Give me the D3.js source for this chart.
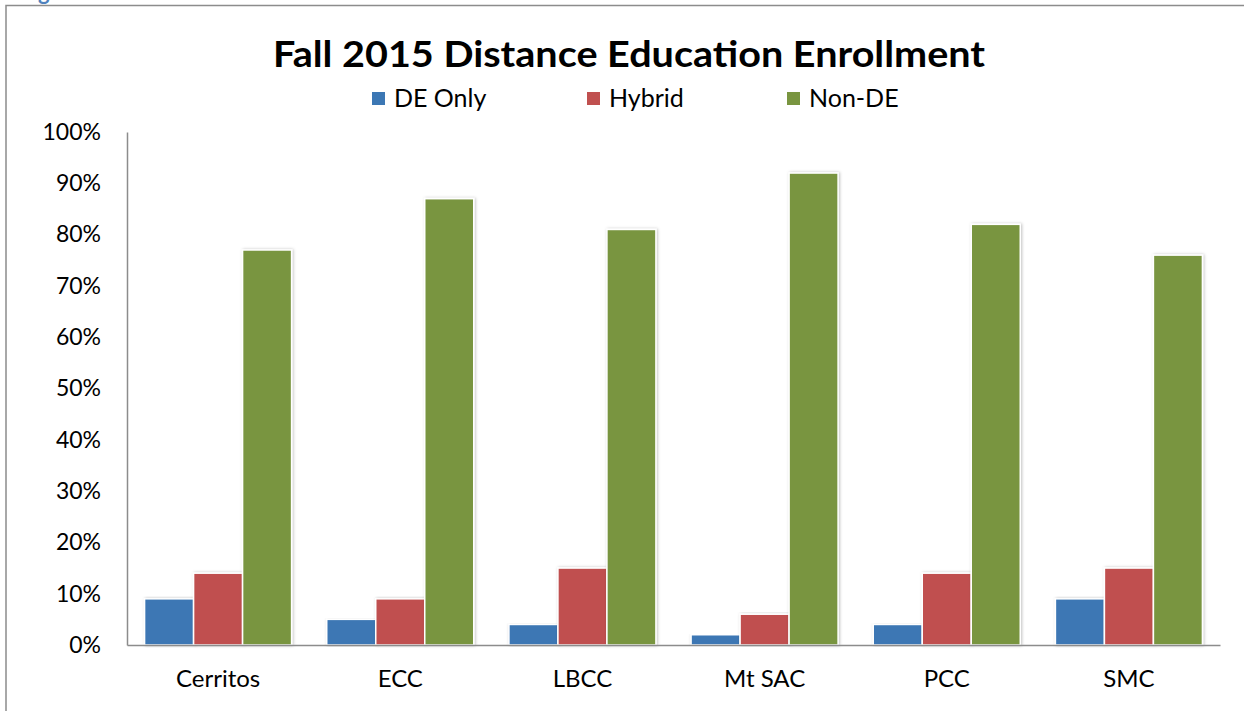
<html>
<script src="https://d3js.org/d3.v7.min.js"></script>
<style>
body { margin: 0; background: #fff; }
text { font-family: Lato, "Open Sans", sans-serif; fill: #000; }
</style>
<body>
<svg width="1244" height="711"></svg>
<script>
const categories = ["Cerritos", "ECC", "LBCC", "Mt SAC", "PCC", "SMC"];
const seriesNames = ["DE Only", "Hybrid", "Non-DE"];
const deOnly = [9, 5, 4, 2, 4, 9];
const hybrid = [14, 9, 15, 6, 14, 15];
const nonDE = [77, 87, 81, 92, 82, 76];
const tickValues = [0, 10, 20, 30, 40, 50, 60, 70, 80, 90, 100];
const colors = ["#3c77b4", "#c0504f", "#799540"];

const series = [deOnly, hybrid, nonDE];

const svg = d3.select("svg");

// cut-off caption above the frame
svg.append("text")
  .text("Figure 4: Fall 2015 Distance Education Enrollment at Peer Institutions")
  .attr("x", 20)
  .attr("y", 0)
  .style("font-size", "22px")
  .style("font-weight", "bold")
  .style("fill", "#4f81bd");

// frame
svg.append("path")
  .attr("d", "M6,711 V5.5 H1244")
  .attr("fill", "none")
  .attr("stroke", "#8c8c8c")
  .attr("stroke-width", 1.5);

var plotLeft = 127, plotRight = 1220, plotTop = 132, plotBottom = 645;

var x0 = d3.scaleBand().domain(categories).range([plotLeft, plotRight]);
var x1 = d3.scaleBand().domain([0, 1, 2]).range([x0.bandwidth() / 2 - 73.5, x0.bandwidth() / 2 + 73.5]);
var y = d3.scaleLinear().domain([0, 100]).range([plotBottom, plotTop]);

var defs = svg.append("defs");
var f = defs.append("filter").attr("id", "shadow").attr("x", "-20%").attr("y", "-5%").attr("width", "140%").attr("height", "110%");
f.append("feDropShadow").attr("dx", 1).attr("dy", 0).attr("stdDeviation", 1.5).attr("flood-color", "#000").attr("flood-opacity", 0.25);

// bars
var groups = svg.append("g")
  .selectAll("g")
  .data(categories)
  .enter()
  .append("g")
  .attr("transform", d => "translate(" + x0(d) + ",0)");

groups.selectAll("rect")
  .data((d, i) => series.map((s, k) => ({k: k, v: s[i]})))
  .enter()
  .append("rect")
  .attr("x", d => x1(d.k))
  .attr("y", d => y(d.v))
  .attr("width", x1.bandwidth())
  .attr("height", d => plotBottom - y(d.v))
  .attr("fill", d => colors[d.k])
  .attr("stroke", "#fff")
  .attr("stroke-width", 1.5)
  .attr("filter", "url(#shadow)");

// y axis
var yAxis = svg.append("g")
  .attr("transform", "translate(" + plotLeft + ",0)")
  .call(d3.axisLeft(y).tickValues(tickValues).tickFormat(d => d + "%").tickSize(0).tickPadding(26));
yAxis.select(".domain").attr("stroke", "#8c8c8c").attr("stroke-width", 1.5);
yAxis.selectAll("text").style("font-size", "23px").style("font-family", "Lato, sans-serif");

// x axis
var xAxis = svg.append("g")
  .attr("transform", "translate(0," + plotBottom + ")")
  .call(d3.axisBottom(x0).tickSize(0).tickPadding(25));
xAxis.select(".domain").attr("stroke", "#8c8c8c").attr("stroke-width", 1.5);
xAxis.selectAll("text").style("font-size", "24px").style("font-family", "Lato, sans-serif");

// title
svg.append("text")
  .text("Fall 2015 Distance Education Enrollment")
  .attr("x", 629)
  .attr("y", 67)
  .attr("text-anchor", "middle")
  .style("font-family", "Lato, sans-serif")
  .style("font-weight", "bold")
  .style("font-size", "36px")
  .attr("textLength", 712)
  .attr("lengthAdjust", "spacingAndGlyphs");

// legend
var legX = [372, 587, 787];
var leg = svg.append("g")
  .selectAll("g")
  .data(seriesNames)
  .enter()
  .append("g")
  .attr("transform", (d, i) => "translate(" + legX[i] + ",92)");
leg.append("rect")
  .attr("width", 13)
  .attr("height", 13)
  .attr("fill", (d, i) => colors[i]);
leg.append("text")
  .text(d => d)
  .attr("x", 22)
  .attr("y", 15)
  .style("font-size", "25px");
</script>
</body>
</html>
